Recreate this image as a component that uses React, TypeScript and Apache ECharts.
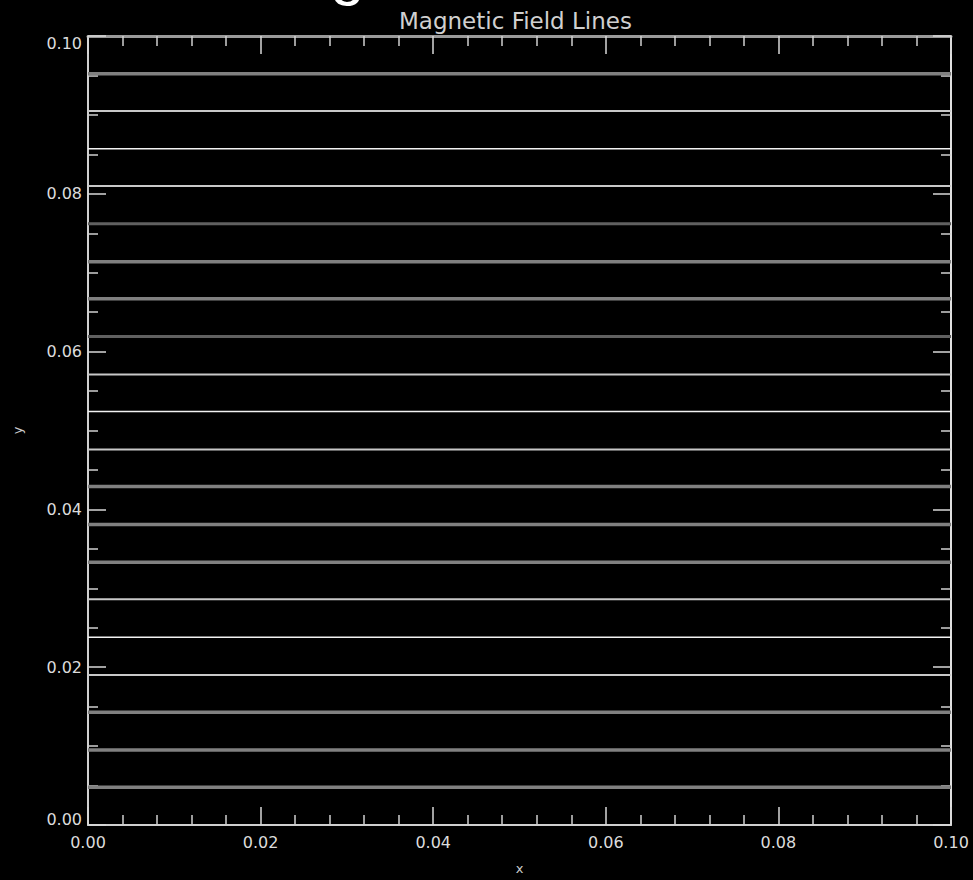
import React, { useEffect, useRef } from "react";
import * as echarts from "echarts";

const chartTitle = "Magnetic Field Lines";
const xName = "x";
const yName = "y";
const xTickLabels = ["0.00", "0.02", "0.04", "0.06", "0.08", "0.10"];
const yTickLabels = ["0.00", "0.02", "0.04", "0.06", "0.08", "0.10"];
const xRange = [0, 0.1];
const fieldLevels = [
  0.0952, 0.0905, 0.0857, 0.081, 0.0762, 0.0714, 0.0667, 0.0619, 0.0571, 0.0524,
  0.0476, 0.0429, 0.0381, 0.0333, 0.0286, 0.0238, 0.019, 0.0143, 0.0095, 0.0048,
];
const fieldShades = [
  "gray", "light", "white", "light", "dark", "gray", "gray", "dark", "light", "white",
  "light", "gray", "gray", "gray", "light", "white", "light", "gray", "gray", "gray",
];

const shadeStyle: Record<string, { color: string; width: number }> = {
  gray: { color: "#808080", width: 3.5 },
  dark: { color: "#606060", width: 3 },
  light: { color: "#c8c8c8", width: 2 },
  white: { color: "#f2f2f2", width: 1.5 },
};

const labelFont = { fontFamily: "DejaVu Sans", fontSize: 16, color: "#dcdcdc" };

export default function App() {
  const ref = useRef<HTMLDivElement>(null);
  useEffect(() => {
    document.body.style.margin = "0";
    document.body.style.background = "#000";
    if (!ref.current) return;
    const chart = echarts.init(ref.current, null, { renderer: "svg" });
    const series = fieldLevels.map((lv, i) => ({
      type: "line",
      xAxisIndex: 0,
      yAxisIndex: 0,
      showSymbol: false,
      symbol: "none",
      silent: true,
      lineStyle: { color: shadeStyle[fieldShades[i]].color, width: shadeStyle[fieldShades[i]].width },
      data: [
        [xRange[0], lv],
        [xRange[1], lv],
      ],
      z: 1,
    }));
    const tickCommon = (len: number, color: string) => ({
      show: true,
      inside: true,
      length: len,
      lineStyle: { color, width: 1.5 },
    });
    const yFmt = (v: number) => {
      const idx = Math.round(v / 0.02);
      const s = yTickLabels[idx] ?? v.toFixed(2);
      if (idx === 5) return `{top|${s}}`;
      if (idx === 0) return `{bot|${s}}`;
      return s;
    };
    chart.setOption({
      animation: false,
      backgroundColor: "#000000",
      grid: { left: 88, right: 22, top: 36, bottom: 53 },
      graphic: [
        {
          type: "text",
          left: 244,
          top: -60,
          style: {
            text: chartTitle,
            fontFamily: "Liberation Sans",
            fontSize: 62,
            lineHeight: 56,
            fill: "#ffffff",
          },
        },
        {
          type: "text",
          left: 399,
          top: 9,
          style: {
            text: chartTitle,
            fontFamily: "DejaVu Sans",
            fontSize: 23,
            fill: "#d0d0d0",
          },
        },
      ],
      xAxis: [
        {
          type: "value",
          position: "bottom",
          min: 0,
          max: 0.1,
          interval: 0.02,
          name: xName,
          nameLocation: "middle",
          nameGap: 37,
          nameTextStyle: { fontFamily: "DejaVu Sans", fontSize: 13, color: "#cccccc" },
          axisLine: { show: true, onZero: false, lineStyle: { color: "#cfcfcf", width: 2 } },
          axisTick: tickCommon(18, "#d8d8d8"),
          minorTick: { show: true, splitNumber: 5, length: 10, lineStyle: { color: "#d0d0d0", width: 1.5 } },
          splitLine: { show: false },
          axisLabel: {
            ...labelFont,
            margin: 9,
            formatter: (v: number) => xTickLabels[Math.round(v / 0.02)] ?? v.toFixed(2),
          },
        },
        {
          type: "value",
          position: "top",
          min: 0,
          max: 0.1,
          interval: 0.02,
          axisLine: { show: true, onZero: false, lineStyle: { color: "#9a9a9a", width: 3 } },
          axisTick: tickCommon(18, "#d8d8d8"),
          minorTick: { show: true, splitNumber: 5, length: 10, lineStyle: { color: "#d0d0d0", width: 1.5 } },
          splitLine: { show: false },
          axisLabel: { show: false },
        },
      ],
      yAxis: [
        {
          type: "value",
          position: "left",
          min: 0,
          max: 0.1,
          interval: 0.02,
          name: yName,
          nameLocation: "middle",
          nameGap: 64,
          nameTextStyle: { fontFamily: "DejaVu Sans", fontSize: 13, color: "#cccccc" },
          axisLine: { show: true, onZero: false, lineStyle: { color: "#d0d0d0", width: 2 } },
          axisTick: tickCommon(18, "#d8d8d8"),
          minorTick: { show: true, splitNumber: 4, length: 10, lineStyle: { color: "#d0d0d0", width: 1.5 } },
          splitLine: { show: false },
          axisLabel: {
            ...labelFont,
            margin: 6,
            formatter: yFmt,
            rich: {
              top: { ...labelFont, padding: [14, 0, 0, 0] },
              bot: { ...labelFont, padding: [0, 0, 12, 0] },
            },
          },
        },
        {
          type: "value",
          position: "right",
          min: 0,
          max: 0.1,
          interval: 0.02,
          axisLine: { show: true, onZero: false, lineStyle: { color: "#e0e0e0", width: 2 } },
          axisTick: tickCommon(18, "#d8d8d8"),
          minorTick: { show: true, splitNumber: 4, length: 10, lineStyle: { color: "#d0d0d0", width: 1.5 } },
          splitLine: { show: false },
          axisLabel: { show: false },
        },
      ],
      series,
    });
    return () => chart.dispose();
  }, []);
  return <div ref={ref} style={{ width: 973, height: 880 }} />;
}
